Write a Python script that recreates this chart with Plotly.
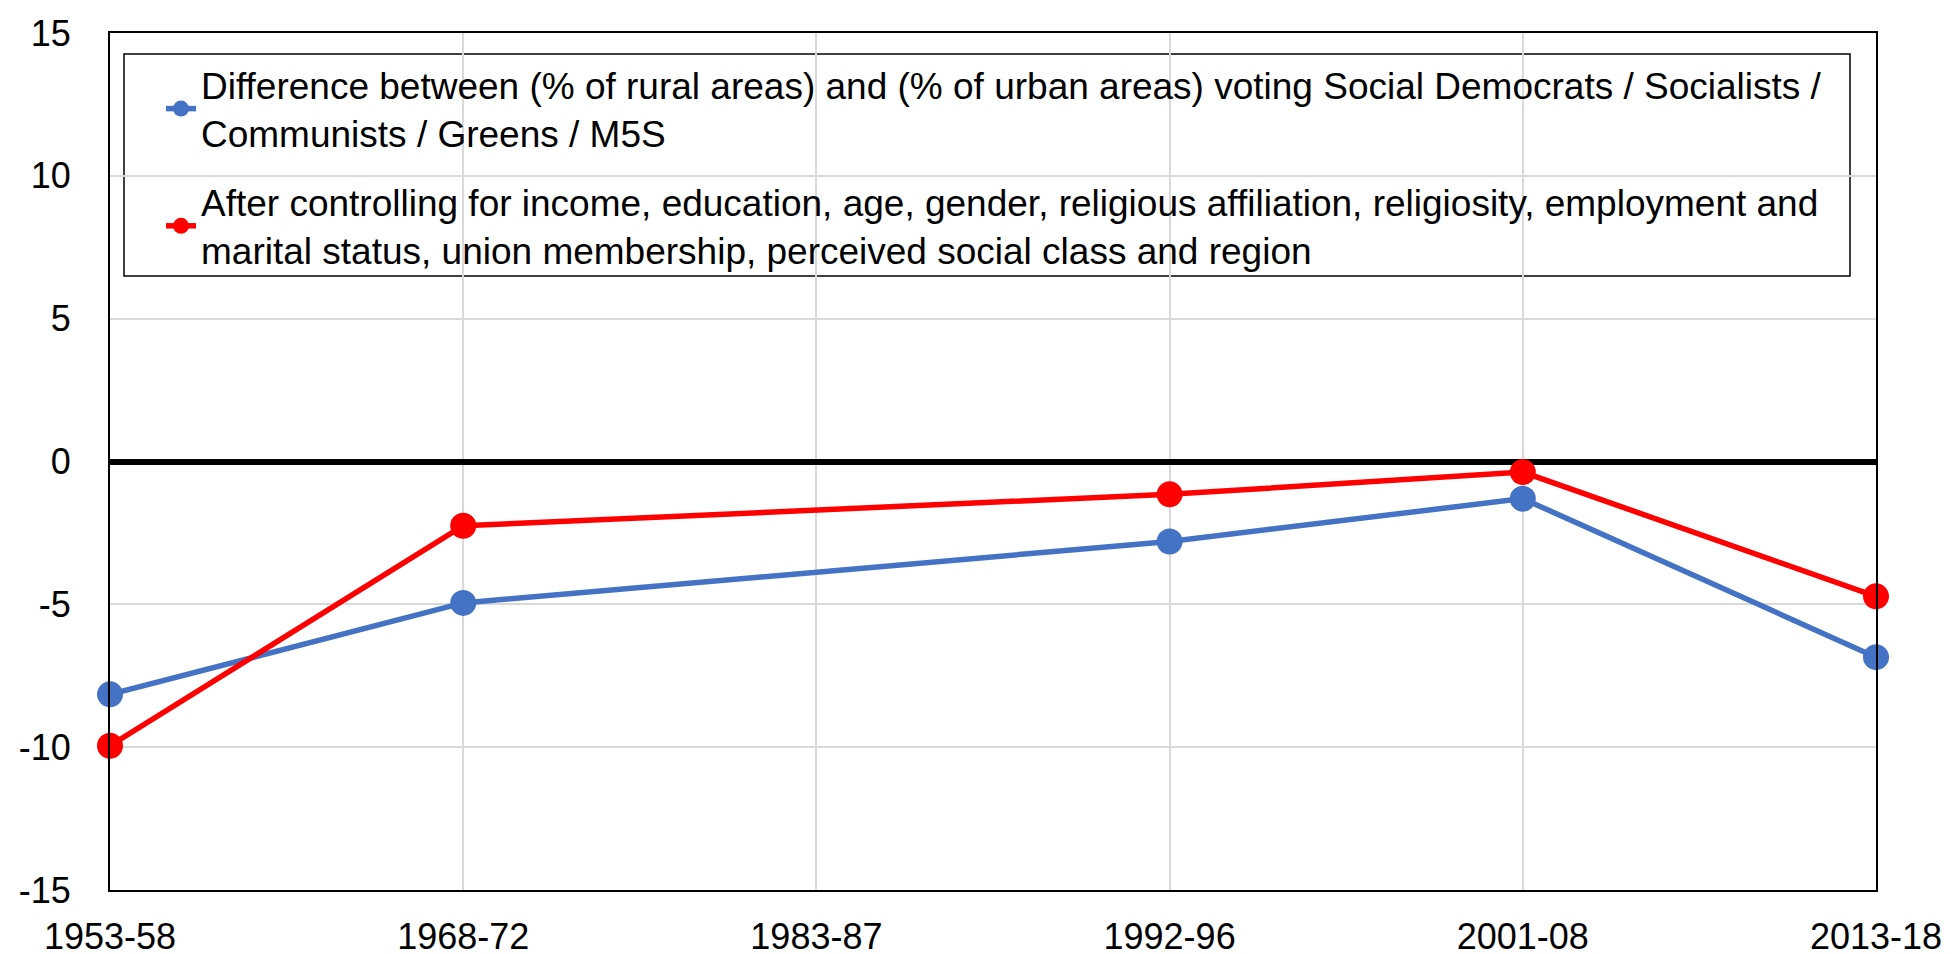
import plotly.graph_objects as go

periods = ["1953-58", "1968-72", "1983-87", "1992-96", "2001-08", "2013-18"]
raw_gap = [-8.15, -4.95, None, -2.8, -1.3, -6.85]
controlled_gap = [-9.95, -2.25, None, -1.15, -0.37, -4.72]
y_ticks = [-15, -10, -5, 0, 5, 10, 15]
y_tick_labels = ["-15", "-10", "-5", "0", "5", "10", "15"]

name_raw = ("Difference between (% of rural areas) and (% of urban areas) voting Social Democrats / Socialists /"
            "<br>Communists / Greens / M5S")
name_ctrl = ("After controlling for income, education, age, gender, religious affiliation, religiosity, employment and"
             "<br>marital status, union membership, perceived social class and region")

W, H = 1957, 954
ml, mr, mt, mb = 102, 89, 25, 72
pw, ph = W - ml - mr, H - mt - mb

def px(xf):
    return (xf - ml) / pw

def py(yf):
    return 1 - (yf - mt) / ph

fig = go.Figure()
fig.add_trace(go.Scatter(
    x=periods, y=raw_gap, name=name_raw, mode="lines+markers", connectgaps=True,
    line=dict(color="#4472C4", width=5.5), marker=dict(size=26, color="#4472C4"),
    cliponaxis=False, legendgroup="a"))
fig.add_trace(go.Scatter(
    x=periods, y=controlled_gap, name=name_ctrl, mode="lines+markers", connectgaps=True,
    line=dict(color="#FF0000", width=5.5), marker=dict(size=26, color="#FF0000"),
    cliponaxis=False, legendgroup="b"))

tick_font = dict(family="Liberation Sans, Arial, sans-serif", size=36, color="black")
leg_font = dict(family="Liberation Sans, Arial, sans-serif", size=37, color="black")

fig.update_layout(
    width=W, height=H,
    margin=dict(l=ml, r=mr, t=mt, b=mb, autoexpand=False),
    paper_bgcolor="white", plot_bgcolor="white",
    font=tick_font,
    showlegend=True,
    legend=dict(x=px(153), y=py(46), xanchor="left", yanchor="top",
                bgcolor="rgba(0,0,0,0)", borderwidth=0, font=leg_font,
                tracegroupgap=18, itemsizing="trace"),
    xaxis=dict(type="category", categoryorder="array", categoryarray=periods,
               range=[0, 5], showgrid=True, gridcolor="#D9D9D9", gridwidth=1.5,
               showline=True, linecolor="black", linewidth=2, mirror=True,
               ticks="", ticklabelstandoff=14, tickfont=tick_font, zeroline=False),
    yaxis=dict(range=[-15, 15], tickmode="array", tickvals=y_ticks, ticktext=y_tick_labels,
               showgrid=True, gridcolor="#D9D9D9",
               gridwidth=1.5, showline=True, linecolor="black", linewidth=2, mirror=True,
               zeroline=True, zerolinecolor="black", zerolinewidth=6,
               ticks="", ticklabelstandoff=30, tickfont=tick_font),
    shapes=[dict(type="rect", xref="paper", yref="paper",
                 x0=px(116), x1=px(1842), y0=py(268), y1=py(46),
                 line=dict(color="black", width=1.5), fillcolor="white", layer="below")],
)

fig.write_html("out.html")
